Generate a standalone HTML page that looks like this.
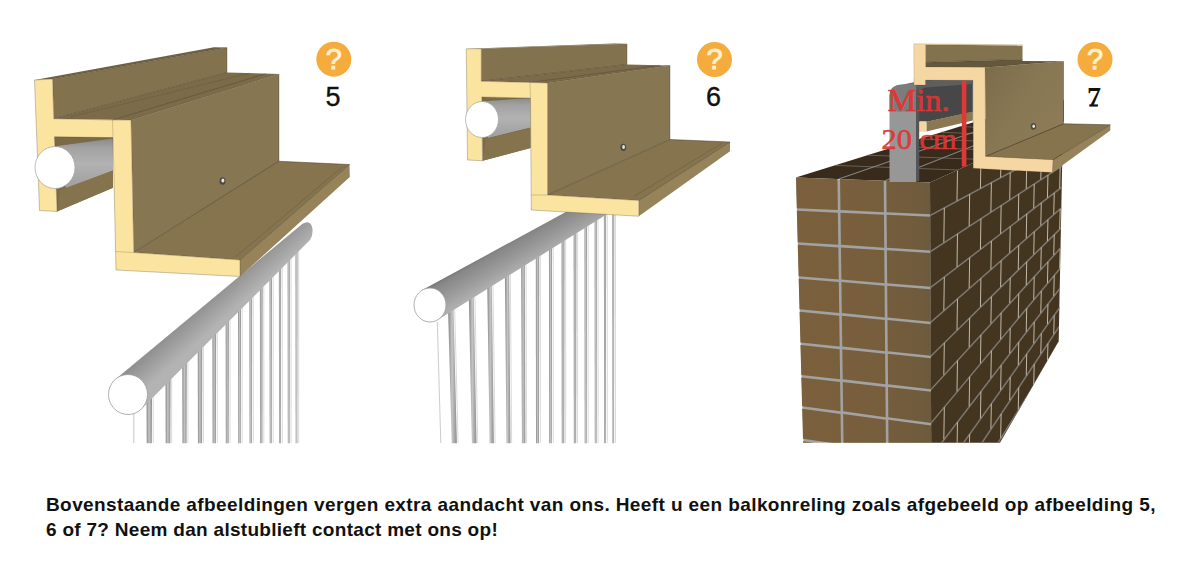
<!DOCTYPE html>
<html><head><meta charset="utf-8"><title>Afbeeldingen</title>
<style>
html,body{margin:0;padding:0;background:#fff;}
body{width:1200px;height:581px;overflow:hidden;position:relative;font-family:"Liberation Sans",sans-serif;}
svg{position:absolute;left:0;top:0;}
.cap{position:absolute;left:46px;top:491.9px;width:1130px;font-family:"Liberation Sans",sans-serif;font-weight:bold;font-size:19px;letter-spacing:0.4px;line-height:25px;color:#111;white-space:nowrap;}
</style></head><body>
<svg width="1200" height="581" viewBox="0 0 1200 581">
<defs>
<linearGradient id="bal" x1="0" x2="1" y1="0" y2="0">
<stop offset="0" stop-color="#8e8e8e"/><stop offset="0.22" stop-color="#a2a2a2"/><stop offset="0.45" stop-color="#c6c6c6"/><stop offset="0.7" stop-color="#ababab"/><stop offset="1" stop-color="#8c8c8c"/>
</linearGradient>
<linearGradient id="tubeA" x1="0" x2="0" y1="0" y2="1">
<stop offset="0" stop-color="#8a8a8a"/><stop offset="0.18" stop-color="#a2a2a2"/><stop offset="0.5" stop-color="#b2b2b2"/><stop offset="1" stop-color="#9e9e9e"/>
</linearGradient>
<linearGradient id="tube1" gradientUnits="userSpaceOnUse" x1="200" y1="290" x2="225" y2="318">
<stop offset="0" stop-color="#707070"/><stop offset="0.12" stop-color="#868686"/><stop offset="0.55" stop-color="#9b9b9b"/><stop offset="1" stop-color="#b3b3b3"/>
</linearGradient>
<linearGradient id="tube2" gradientUnits="userSpaceOnUse" x1="500" y1="245" x2="517" y2="275">
<stop offset="0" stop-color="#707070"/><stop offset="0.12" stop-color="#868686"/><stop offset="0.55" stop-color="#9b9b9b"/><stop offset="1" stop-color="#b3b3b3"/>
</linearGradient>
<linearGradient id="ff3" gradientUnits="userSpaceOnUse" x1="985" y1="70" x2="1064" y2="120"><stop offset="0" stop-color="#7c6c4a"/><stop offset="0.5" stop-color="#887753"/><stop offset="1" stop-color="#8c7b56"/></linearGradient>
<linearGradient id="brf" gradientUnits="userSpaceOnUse" x1="796" y1="0" x2="931" y2="0"><stop offset="0" stop-color="#7b603c"/><stop offset="0.6" stop-color="#775e3c"/><stop offset="1" stop-color="#6d5a3d"/></linearGradient>
<clipPath id="clipwall"><rect x="780" y="0" width="320" height="442.7"/></clipPath>
</defs>
<polygon points="146.50,398.14 152.00,398.14 151.80,443.20 146.70,443.20" fill="url(#bal)" />
<polygon points="165.50,379.35 170.50,379.35 170.30,443.20 165.70,443.20" fill="url(#bal)" />
<polygon points="182.25,362.81 186.75,362.81 186.55,443.20 182.45,443.20" fill="url(#bal)" />
<polygon points="197.75,347.28 202.25,347.28 202.05,443.20 197.95,443.20" fill="url(#bal)" />
<polygon points="212.38,333.01 216.12,333.01 215.93,443.20 212.57,443.20" fill="url(#bal)" />
<polygon points="225.62,319.98 228.88,319.98 228.68,443.20 225.82,443.20" fill="url(#bal)" />
<polygon points="238.00,307.70 241.00,307.70 240.80,443.20 238.20,443.20" fill="url(#bal)" />
<polygon points="249.38,296.43 252.12,296.43 251.93,443.20 249.57,443.20" fill="url(#bal)" />
<polygon points="259.88,285.91 262.62,285.91 262.43,443.20 260.07,443.20" fill="url(#bal)" />
<polygon points="269.50,276.39 272.00,276.39 271.80,443.20 269.70,443.20" fill="url(#bal)" />
<polygon points="278.88,267.12 281.12,267.12 280.93,443.20 279.07,443.20" fill="url(#bal)" />
<polygon points="287.62,258.36 289.88,258.36 289.68,443.20 287.82,443.20" fill="url(#bal)" />
<polygon points="295.50,250.59 297.50,250.59 297.30,443.20 295.70,443.20" fill="url(#bal)" />
<line x1="153.20" y1="397.18" x2="153.20" y2="443.00" stroke="#d6d6d6" stroke-width="0.9" />
<line x1="171.70" y1="378.64" x2="171.70" y2="443.00" stroke="#d6d6d6" stroke-width="0.9" />
<line x1="187.95" y1="362.36" x2="187.95" y2="443.00" stroke="#d6d6d6" stroke-width="0.9" />
<line x1="203.45" y1="346.83" x2="203.45" y2="443.00" stroke="#d6d6d6" stroke-width="0.9" />
<line x1="217.32" y1="332.92" x2="217.32" y2="443.00" stroke="#d6d6d6" stroke-width="0.9" />
<line x1="230.07" y1="320.15" x2="230.07" y2="443.00" stroke="#d6d6d6" stroke-width="0.9" />
<line x1="242.20" y1="308.00" x2="242.20" y2="443.00" stroke="#d6d6d6" stroke-width="0.9" />
<line x1="253.32" y1="296.85" x2="253.32" y2="443.00" stroke="#d6d6d6" stroke-width="0.9" />
<line x1="263.82" y1="286.33" x2="263.82" y2="443.00" stroke="#d6d6d6" stroke-width="0.9" />
<line x1="273.20" y1="276.94" x2="273.20" y2="443.00" stroke="#d6d6d6" stroke-width="0.9" />
<line x1="282.32" y1="267.79" x2="282.32" y2="443.00" stroke="#d6d6d6" stroke-width="0.9" />
<line x1="291.07" y1="259.03" x2="291.07" y2="443.00" stroke="#d6d6d6" stroke-width="0.9" />
<line x1="298.70" y1="251.39" x2="298.70" y2="443.00" stroke="#d6d6d6" stroke-width="0.9" />
<rect x="133.2" y="414" width="1.2" height="29" fill="#cfcfcf"/>
<path d="M115.5 379.2 L302.5 223.75 Q311 219 312.5 229 Q313 236 310 240 L141.8 408.6 Z" fill="url(#tube1)"/>
<ellipse cx="128" cy="394.5" rx="19.5" ry="20" fill="#ffffff" stroke="#9a9a9a" stroke-width="0.8"/>
<polygon points="54.00,136.00 113.00,137.00 113.00,187.80 57.00,211.50" fill="#7b6a48" />
<polygon points="52.50,79.00 227.00,47.50 227.00,72.50 53.75,118.75" fill="#83724e" />
<polygon points="34.50,80.00 52.50,79.00 227.00,47.50 214.00,47.20" fill="#6f6145" />
<polygon points="53.75,118.75 227.00,72.50 279.00,74.00 131.00,120.00" fill="#7c6b49" />
<line x1="112.50" y1="120.00" x2="266.00" y2="73.70" stroke="#3d3422" stroke-width="0.5" opacity="0.6"/>
<line x1="131.00" y1="120.00" x2="279.00" y2="74.30" stroke="#3d3422" stroke-width="0.6" opacity="0.7"/>
<line x1="53.75" y1="118.75" x2="227.00" y2="72.50" stroke="#3d3422" stroke-width="0.6" opacity="0.7"/>
<line x1="70.00" y1="117.00" x2="250.00" y2="73.00" stroke="#3d3422" stroke-width="0.4" opacity="0.4"/>
<polygon points="131.00,120.00 279.00,74.00 279.00,161.25 133.75,252.50" fill="#877652" />
<polygon points="57.50,146.00 113.00,138.50 113.00,170.50 66.00,189.00" fill="url(#tubeA)" />
<polygon points="60.00,190.00 113.00,170.50 113.00,187.80 57.00,211.50" fill="#85734e" />
<polygon points="133.75,252.50 278.75,161.25 349.50,164.50 240.00,260.00" fill="#86744F" />
<polygon points="240.00,260.00 349.50,164.50 349.80,177.00 240.00,276.50" fill="#96835A" />
<line x1="133.75" y1="252.50" x2="278.75" y2="161.25" stroke="#3d3422" stroke-width="0.6" opacity="0.8"/>
<line x1="240.00" y1="260.00" x2="349.50" y2="164.50" stroke="#3d3422" stroke-width="0.6" opacity="0.8"/>
<line x1="278.75" y1="161.25" x2="349.50" y2="164.50" stroke="#3d3422" stroke-width="0.6" opacity="0.8"/>
<line x1="279.00" y1="74.00" x2="279.00" y2="161.25" stroke="#3d3422" stroke-width="0.5" opacity="0.6"/>
<line x1="236.00" y1="256.50" x2="342.30" y2="166.90" stroke="#3d3422" stroke-width="0.5" opacity="0.4"/>
<line x1="227.00" y1="47.50" x2="227.00" y2="72.50" stroke="#3d3422" stroke-width="0.5" opacity="0.6"/>
<line x1="52.50" y1="79.00" x2="227.00" y2="47.50" stroke="#3d3422" stroke-width="0.5" opacity="0.5"/>
<polygon points="34.50,80.00 52.50,79.00 53.75,118.75 112.50,120.00 131.00,120.00 133.75,252.50 240.00,260.00 240.00,276.50 116.00,270.00 113.00,137.60 54.50,136.80 57.00,211.50 39.50,210.50" fill="#FBE3A0" stroke="#3d3422" stroke-width="0.5" stroke-opacity="0.55" stroke-linejoin="round"/>
<line x1="112.50" y1="120.00" x2="113.00" y2="137.00" stroke="#3d3422" stroke-width="0.4" opacity="0.5"/>
<line x1="115.50" y1="251.50" x2="133.75" y2="252.50" stroke="#3d3422" stroke-width="0.4" opacity="0.5"/>
<ellipse cx="55" cy="167.5" rx="20" ry="21" fill="#ffffff" stroke="#a0a0a0" stroke-width="0.7"/>
<ellipse cx="222.5" cy="181" rx="3" ry="3.8" fill="#4e493f"/><ellipse cx="222.9" cy="180.6" rx="1.5" ry="2" fill="#e6e6e6"/>
<circle cx="333.8" cy="59.2" r="17.5" fill="#F6AC3C"/>
<text x="333.8" y="68.8" font-family="Liberation Sans, sans-serif" font-size="29" fill="#FFF1CF" stroke="#FFF1CF" stroke-width="0.9" text-anchor="middle">?</text>
<text x="333" y="105.8" font-family="Liberation Sans, sans-serif" font-size="27" fill="#111" stroke="#111" stroke-width="0.35" text-anchor="middle">5</text>
<polygon points="612.25,212.00 614.25,212.00 614.05,443.20 612.45,443.20" fill="url(#bal)" />
<polygon points="603.90,212.50 606.10,212.50 605.90,443.20 604.10,443.20" fill="url(#bal)" />
<polygon points="594.60,218.28 596.90,218.28 596.70,443.20 594.80,443.20" fill="url(#bal)" />
<polygon points="584.50,224.52 587.00,224.52 586.80,443.20 584.70,443.20" fill="url(#bal)" />
<polygon points="573.62,231.22 576.38,231.22 576.17,443.20 573.83,443.20" fill="url(#bal)" />
<polygon points="561.55,238.71 564.45,238.71 564.25,443.20 561.75,443.20" fill="url(#bal)" />
<polygon points="548.95,246.51 552.05,246.51 551.85,443.20 549.15,443.20" fill="url(#bal)" />
<polygon points="535.80,254.62 539.20,254.62 539.00,443.20 536.00,443.20" fill="url(#bal)" />
<polygon points="521.10,263.67 524.90,263.67 525.38,443.20 521.98,443.20" fill="url(#bal)" />
<polygon points="504.85,273.66 509.15,273.66 510.46,443.20 506.56,443.20" fill="url(#bal)" />
<polygon points="487.20,284.58 491.80,284.58 493.89,443.20 489.69,443.20" fill="url(#bal)" />
<polygon points="468.75,295.96 473.75,295.96 476.53,443.20 471.93,443.20" fill="url(#bal)" />
<polygon points="448.00,308.76 453.50,308.76 456.90,443.20 451.80,443.20" fill="url(#bal)" />
<line x1="615.45" y1="212.00" x2="615.45" y2="443.00" stroke="#d6d6d6" stroke-width="0.9" />
<line x1="607.30" y1="214.07" x2="607.30" y2="443.00" stroke="#d6d6d6" stroke-width="0.9" />
<line x1="598.10" y1="219.81" x2="598.10" y2="443.00" stroke="#d6d6d6" stroke-width="0.9" />
<line x1="588.20" y1="225.99" x2="588.20" y2="443.00" stroke="#d6d6d6" stroke-width="0.9" />
<line x1="577.58" y1="232.62" x2="577.58" y2="443.00" stroke="#d6d6d6" stroke-width="0.9" />
<line x1="565.65" y1="240.06" x2="565.65" y2="443.00" stroke="#d6d6d6" stroke-width="0.9" />
<line x1="553.25" y1="247.80" x2="553.25" y2="443.00" stroke="#d6d6d6" stroke-width="0.9" />
<line x1="540.40" y1="255.81" x2="540.40" y2="443.00" stroke="#d6d6d6" stroke-width="0.9" />
<line x1="526.10" y1="264.74" x2="526.60" y2="443.00" stroke="#d6d6d6" stroke-width="0.9" />
<line x1="510.35" y1="274.57" x2="511.67" y2="443.00" stroke="#d6d6d6" stroke-width="0.9" />
<line x1="493.00" y1="285.39" x2="495.10" y2="443.00" stroke="#d6d6d6" stroke-width="0.9" />
<line x1="474.95" y1="296.66" x2="477.74" y2="443.00" stroke="#d6d6d6" stroke-width="0.9" />
<line x1="454.70" y1="309.29" x2="458.11" y2="443.00" stroke="#d6d6d6" stroke-width="0.9" />
<line x1="437.30" y1="322.00" x2="440.80" y2="443.00" stroke="#cccccc" stroke-width="1.0" />
<polygon points="422.30,290.10 580.00,204.20 620.00,206.10 438.50,319.40" fill="url(#tube2)" />
<ellipse cx="430" cy="305" rx="16" ry="17" fill="#ffffff" stroke="#9a9a9a" stroke-width="0.8"/>
<polygon points="482.00,97.00 530.50,98.00 530.50,148.00 482.50,160.75" fill="#7b6a48" />
<polygon points="481.25,48.75 627.00,43.75 627.00,64.50 481.25,81.25" fill="#83724e" />
<polygon points="466.25,48.75 481.25,48.75 627.00,43.75 614.00,43.40" fill="#6f6145" />
<polygon points="481.25,81.25 627.00,64.50 670.00,65.50 547.50,83.00" fill="#7c6b49" />
<line x1="530.00" y1="82.50" x2="660.00" y2="65.20" stroke="#3d3422" stroke-width="0.5" opacity="0.6"/>
<line x1="547.50" y1="83.00" x2="670.00" y2="65.50" stroke="#3d3422" stroke-width="0.6" opacity="0.7"/>
<line x1="481.25" y1="81.25" x2="627.00" y2="64.50" stroke="#3d3422" stroke-width="0.6" opacity="0.7"/>
<polygon points="547.50,83.00 670.00,65.50 670.00,139.50 547.50,195.00" fill="#877652" />
<polygon points="484.00,101.25 530.50,98.00 530.50,127.50 488.00,138.00" fill="url(#tubeA)" />
<polygon points="486.00,139.00 530.50,128.00 530.50,148.00 482.50,160.75" fill="#85734e" />
<polygon points="547.50,195.00 670.00,139.50 730.00,142.00 638.75,200.50" fill="#86744F" />
<polygon points="638.75,200.50 730.00,142.00 730.00,151.25 638.75,216.25" fill="#96835A" />
<line x1="547.50" y1="195.00" x2="670.00" y2="139.50" stroke="#3d3422" stroke-width="0.6" opacity="0.8"/>
<line x1="638.75" y1="200.50" x2="730.00" y2="142.00" stroke="#3d3422" stroke-width="0.6" opacity="0.8"/>
<line x1="670.00" y1="139.50" x2="730.00" y2="142.00" stroke="#3d3422" stroke-width="0.6" opacity="0.8"/>
<line x1="670.00" y1="65.50" x2="670.00" y2="139.50" stroke="#3d3422" stroke-width="0.5" opacity="0.6"/>
<line x1="634.00" y1="196.30" x2="722.60" y2="143.00" stroke="#3d3422" stroke-width="0.5" opacity="0.4"/>
<line x1="627.00" y1="43.75" x2="627.00" y2="64.50" stroke="#3d3422" stroke-width="0.5" opacity="0.6"/>
<polygon points="466.25,48.75 481.25,48.75 481.25,81.25 530.00,82.50 547.50,83.00 547.50,195.00 638.75,200.50 638.75,216.25 531.25,210.00 530.50,98.00 481.50,97.00 482.50,160.75 467.50,160.00" fill="#FBE3A0" stroke="#3d3422" stroke-width="0.5" stroke-opacity="0.55" stroke-linejoin="round"/>
<line x1="530.00" y1="82.50" x2="530.50" y2="98.00" stroke="#3d3422" stroke-width="0.4" opacity="0.5"/>
<line x1="531.25" y1="195.00" x2="547.50" y2="195.00" stroke="#3d3422" stroke-width="0.4" opacity="0.5"/>
<ellipse cx="482" cy="119.5" rx="16.5" ry="18" fill="#ffffff" stroke="#a0a0a0" stroke-width="0.7"/>
<ellipse cx="623.25" cy="147.3" rx="2.9" ry="3.6" fill="#4e493f"/><ellipse cx="623.6" cy="147" rx="1.4" ry="1.9" fill="#e6e6e6"/>
<circle cx="714.5" cy="59.5" r="17.5" fill="#F6AC3C"/>
<text x="714.5" y="69.1" font-family="Liberation Sans, sans-serif" font-size="29" fill="#FFF1CF" stroke="#FFF1CF" stroke-width="0.9" text-anchor="middle">?</text>
<text x="713.5" y="106" font-family="Liberation Sans, sans-serif" font-size="27" fill="#111" stroke="#111" stroke-width="0.35" text-anchor="middle">6</text>
<g clip-path="url(#clipwall)">
<polygon points="795.80,177.50 930.00,182.50 1064.00,121.50 1064.00,100.00 980.00,120.21" fill="#382b1b" />
<line x1="834.73" y1="165.39" x2="957.53" y2="169.97" stroke="#77736b" stroke-width="1.0" opacity="0.75"/>
<line x1="867.56" y1="155.18" x2="980.74" y2="159.40" stroke="#77736b" stroke-width="1.0" opacity="0.75"/>
<line x1="895.63" y1="146.45" x2="1000.59" y2="150.36" stroke="#77736b" stroke-width="1.0" opacity="0.75"/>
<line x1="919.89" y1="138.91" x2="1017.75" y2="142.55" stroke="#77736b" stroke-width="1.0" opacity="0.75"/>
<line x1="941.08" y1="132.32" x2="1032.73" y2="135.73" stroke="#77736b" stroke-width="1.0" opacity="0.75"/>
<line x1="959.74" y1="126.52" x2="1045.92" y2="129.73" stroke="#77736b" stroke-width="1.0" opacity="0.75"/>
<line x1="838.75" y1="179.10" x2="985.00" y2="128.35" stroke="#8d8d8d" stroke-width="1.1" opacity="0.9"/>
<line x1="885.00" y1="180.80" x2="985.00" y2="141.29" stroke="#8d8d8d" stroke-width="1.1" opacity="0.9"/>
<polygon points="796.00,178.00 930.00,182.50 931.30,460.00 804.00,460.00" fill="#a2a2a2" />
<polygon points="795.99,177.50 837.44,179.10 837.87,210.11 796.84,208.20" fill="url(#brf)" />
<polygon points="840.04,179.10 883.70,180.82 883.97,212.18 840.47,210.11" fill="url(#brf)" />
<polygon points="886.30,180.82 930.00,182.50 930.17,214.20 886.57,212.18" fill="url(#brf)" />
<polygon points="796.84,210.80 837.87,212.71 838.33,244.82 797.75,242.20" fill="url(#brf)" />
<polygon points="840.47,212.71 883.97,214.78 884.27,247.70 840.93,244.82" fill="url(#brf)" />
<polygon points="886.57,214.78 930.17,216.80 930.35,250.50 886.87,247.70" fill="url(#brf)" />
<polygon points="797.75,244.80 838.33,247.42 838.79,279.50 798.66,276.20" fill="url(#brf)" />
<polygon points="840.93,247.42 884.27,250.30 884.57,283.14 841.39,279.50" fill="url(#brf)" />
<polygon points="886.87,250.30 930.35,253.10 930.53,286.70 887.17,283.14" fill="url(#brf)" />
<polygon points="798.66,278.80 838.79,282.10 839.23,313.11 799.54,309.20" fill="url(#brf)" />
<polygon points="841.39,282.10 884.57,285.74 884.85,317.45 841.83,313.11" fill="url(#brf)" />
<polygon points="887.17,285.74 930.53,289.30 930.70,321.70 887.45,317.45" fill="url(#brf)" />
<polygon points="799.54,311.80 839.23,315.71 839.68,346.57 800.43,342.45" fill="url(#brf)" />
<polygon points="841.83,315.71 884.85,320.05 885.14,351.19 842.28,346.57" fill="url(#brf)" />
<polygon points="887.45,320.05 930.70,324.30 930.87,355.70 887.74,351.19" fill="url(#brf)" />
<polygon points="800.43,345.05 839.68,349.17 840.12,379.36 801.30,374.95" fill="url(#brf)" />
<polygon points="842.28,349.17 885.14,353.79 885.43,384.33 842.72,379.36" fill="url(#brf)" />
<polygon points="887.74,353.79 930.87,358.30 931.04,389.20 888.03,384.33" fill="url(#brf)" />
<polygon points="801.30,377.55 840.12,381.96 840.54,411.37 802.13,406.20" fill="url(#brf)" />
<polygon points="842.72,381.96 885.43,386.93 885.70,417.25 843.14,411.37" fill="url(#brf)" />
<polygon points="888.03,386.93 931.04,391.80 931.21,423.00 888.30,417.25" fill="url(#brf)" />
<polygon points="802.13,408.80 840.54,413.97 840.97,444.21 803.00,438.70" fill="url(#brf)" />
<polygon points="843.14,413.97 885.70,419.85 885.98,450.52 843.57,444.21" fill="url(#brf)" />
<polygon points="888.30,419.85 931.21,425.60 931.38,456.70 888.58,450.52" fill="url(#brf)" />
<polygon points="803.00,441.30 840.97,446.81 841.40,476.18 803.85,470.70" fill="url(#brf)" />
<polygon points="843.57,446.81 885.98,453.12 886.26,482.50 844.00,476.18" fill="url(#brf)" />
<polygon points="888.58,453.12 931.38,459.30 931.54,488.70 888.86,482.50" fill="url(#brf)" />
<polygon points="930.00,182.50 1063.00,122.00 1058.70,341.30 990.00,460.00 931.30,460.00" fill="#433520" />
</g>
<clipPath id="clipside"><polygon points="930,182.5 1063,122 1058.7,341.3 1000,442.7 931.3,442.7"/></clipPath>
<g clip-path="url(#clipside)">
<line x1="930.00" y1="215.50" x2="1070.00" y2="140.61" stroke="#7d7971" stroke-width="1.5" />
<line x1="930.00" y1="251.80" x2="1070.00" y2="160.78" stroke="#7d7971" stroke-width="1.5" />
<line x1="930.00" y1="288.00" x2="1070.00" y2="180.89" stroke="#7d7971" stroke-width="1.5" />
<line x1="930.00" y1="323.00" x2="1070.00" y2="200.33" stroke="#7d7971" stroke-width="1.5" />
<line x1="930.00" y1="357.00" x2="1070.00" y2="219.22" stroke="#7d7971" stroke-width="1.5" />
<line x1="930.00" y1="390.50" x2="1070.00" y2="237.83" stroke="#7d7971" stroke-width="1.5" />
<line x1="930.00" y1="424.30" x2="1070.00" y2="256.61" stroke="#7d7971" stroke-width="1.5" />
<line x1="930.00" y1="458.00" x2="1070.00" y2="275.33" stroke="#7d7971" stroke-width="1.5" />
<line x1="930.00" y1="490.00" x2="1070.00" y2="293.11" stroke="#7d7971" stroke-width="1.5" />
<line x1="930.00" y1="521.00" x2="1070.00" y2="310.33" stroke="#7d7971" stroke-width="1.5" />
<line x1="930.00" y1="552.00" x2="1070.00" y2="327.56" stroke="#7d7971" stroke-width="1.5" />
<line x1="957.49" y1="170.67" x2="956.99" y2="200.80" stroke="#c2baa8" stroke-width="1.0" />
<line x1="980.92" y1="160.60" x2="980.42" y2="188.26" stroke="#c2baa8" stroke-width="1.0" />
<line x1="1001.13" y1="151.90" x2="1000.63" y2="177.45" stroke="#c2baa8" stroke-width="1.0" />
<line x1="1018.75" y1="144.33" x2="1018.25" y2="168.03" stroke="#c2baa8" stroke-width="1.0" />
<line x1="1034.23" y1="137.66" x2="1033.73" y2="159.75" stroke="#c2baa8" stroke-width="1.0" />
<line x1="1047.95" y1="131.76" x2="1047.45" y2="152.41" stroke="#c2baa8" stroke-width="1.0" />
<line x1="1060.19" y1="126.50" x2="1059.69" y2="145.86" stroke="#c2baa8" stroke-width="1.0" />
<line x1="944.32" y1="207.84" x2="943.82" y2="242.49" stroke="#c2baa8" stroke-width="1.0" />
<line x1="969.66" y1="194.29" x2="969.16" y2="226.02" stroke="#c2baa8" stroke-width="1.0" />
<line x1="991.39" y1="182.66" x2="990.89" y2="211.89" stroke="#c2baa8" stroke-width="1.0" />
<line x1="1010.23" y1="172.58" x2="1009.73" y2="199.64" stroke="#c2baa8" stroke-width="1.0" />
<line x1="1026.73" y1="163.76" x2="1026.23" y2="188.91" stroke="#c2baa8" stroke-width="1.0" />
<line x1="1041.29" y1="155.97" x2="1040.79" y2="179.44" stroke="#c2baa8" stroke-width="1.0" />
<line x1="1054.24" y1="149.04" x2="1053.74" y2="171.03" stroke="#c2baa8" stroke-width="1.0" />
<line x1="1065.83" y1="142.84" x2="1065.33" y2="163.49" stroke="#c2baa8" stroke-width="1.0" />
<line x1="957.49" y1="233.93" x2="956.99" y2="266.97" stroke="#c2baa8" stroke-width="1.0" />
<line x1="980.92" y1="218.69" x2="980.42" y2="249.04" stroke="#c2baa8" stroke-width="1.0" />
<line x1="1001.13" y1="205.55" x2="1000.63" y2="233.58" stroke="#c2baa8" stroke-width="1.0" />
<line x1="1018.75" y1="194.10" x2="1018.25" y2="220.10" stroke="#c2baa8" stroke-width="1.0" />
<line x1="1034.23" y1="184.03" x2="1033.73" y2="208.26" stroke="#c2baa8" stroke-width="1.0" />
<line x1="1047.95" y1="175.11" x2="1047.45" y2="197.76" stroke="#c2baa8" stroke-width="1.0" />
<line x1="1060.19" y1="167.16" x2="1059.69" y2="188.40" stroke="#c2baa8" stroke-width="1.0" />
<line x1="944.32" y1="277.05" x2="943.82" y2="310.46" stroke="#c2baa8" stroke-width="1.0" />
<line x1="969.66" y1="257.66" x2="969.16" y2="288.25" stroke="#c2baa8" stroke-width="1.0" />
<line x1="991.39" y1="241.03" x2="990.89" y2="269.21" stroke="#c2baa8" stroke-width="1.0" />
<line x1="1010.23" y1="226.62" x2="1009.73" y2="252.70" stroke="#c2baa8" stroke-width="1.0" />
<line x1="1026.73" y1="213.99" x2="1026.23" y2="238.25" stroke="#c2baa8" stroke-width="1.0" />
<line x1="1041.29" y1="202.85" x2="1040.79" y2="225.49" stroke="#c2baa8" stroke-width="1.0" />
<line x1="1054.24" y1="192.95" x2="1053.74" y2="214.14" stroke="#c2baa8" stroke-width="1.0" />
<line x1="1065.83" y1="184.08" x2="1065.33" y2="203.99" stroke="#c2baa8" stroke-width="1.0" />
<line x1="957.49" y1="298.91" x2="956.99" y2="329.95" stroke="#c2baa8" stroke-width="1.0" />
<line x1="980.92" y1="278.38" x2="980.42" y2="306.89" stroke="#c2baa8" stroke-width="1.0" />
<line x1="1001.13" y1="260.67" x2="1000.63" y2="287.00" stroke="#c2baa8" stroke-width="1.0" />
<line x1="1018.75" y1="245.24" x2="1018.25" y2="269.66" stroke="#c2baa8" stroke-width="1.0" />
<line x1="1034.23" y1="231.68" x2="1033.73" y2="254.42" stroke="#c2baa8" stroke-width="1.0" />
<line x1="1047.95" y1="219.65" x2="1047.45" y2="240.92" stroke="#c2baa8" stroke-width="1.0" />
<line x1="1060.19" y1="208.93" x2="1059.69" y2="228.88" stroke="#c2baa8" stroke-width="1.0" />
<line x1="944.32" y1="342.91" x2="943.82" y2="374.89" stroke="#c2baa8" stroke-width="1.0" />
<line x1="969.66" y1="317.97" x2="969.16" y2="347.26" stroke="#c2baa8" stroke-width="1.0" />
<line x1="991.39" y1="296.59" x2="990.89" y2="323.56" stroke="#c2baa8" stroke-width="1.0" />
<line x1="1010.23" y1="278.04" x2="1009.73" y2="303.01" stroke="#c2baa8" stroke-width="1.0" />
<line x1="1026.73" y1="261.81" x2="1026.23" y2="285.02" stroke="#c2baa8" stroke-width="1.0" />
<line x1="1041.29" y1="247.48" x2="1040.79" y2="269.14" stroke="#c2baa8" stroke-width="1.0" />
<line x1="1054.24" y1="234.73" x2="1053.74" y2="255.02" stroke="#c2baa8" stroke-width="1.0" />
<line x1="1065.83" y1="223.33" x2="1065.33" y2="242.38" stroke="#c2baa8" stroke-width="1.0" />
<line x1="957.49" y1="360.52" x2="956.99" y2="391.37" stroke="#c2baa8" stroke-width="1.0" />
<line x1="980.92" y1="334.97" x2="980.42" y2="363.31" stroke="#c2baa8" stroke-width="1.0" />
<line x1="1001.13" y1="312.93" x2="1000.63" y2="339.10" stroke="#c2baa8" stroke-width="1.0" />
<line x1="1018.75" y1="293.72" x2="1018.25" y2="318.00" stroke="#c2baa8" stroke-width="1.0" />
<line x1="1034.23" y1="276.84" x2="1033.73" y2="299.46" stroke="#c2baa8" stroke-width="1.0" />
<line x1="1047.95" y1="261.88" x2="1047.45" y2="283.02" stroke="#c2baa8" stroke-width="1.0" />
<line x1="1060.19" y1="248.53" x2="1059.69" y2="268.36" stroke="#c2baa8" stroke-width="1.0" />
<line x1="944.32" y1="407.15" x2="943.82" y2="439.32" stroke="#c2baa8" stroke-width="1.0" />
<line x1="969.66" y1="376.80" x2="969.16" y2="406.26" stroke="#c2baa8" stroke-width="1.0" />
<line x1="991.39" y1="350.77" x2="990.89" y2="377.90" stroke="#c2baa8" stroke-width="1.0" />
<line x1="1010.23" y1="328.20" x2="1009.73" y2="353.32" stroke="#c2baa8" stroke-width="1.0" />
<line x1="1026.73" y1="308.44" x2="1026.23" y2="331.79" stroke="#c2baa8" stroke-width="1.0" />
<line x1="1041.29" y1="291.00" x2="1040.79" y2="312.79" stroke="#c2baa8" stroke-width="1.0" />
<line x1="1054.24" y1="275.49" x2="1053.74" y2="295.90" stroke="#c2baa8" stroke-width="1.0" />
<line x1="1065.83" y1="261.61" x2="1065.33" y2="280.78" stroke="#c2baa8" stroke-width="1.0" />
<line x1="957.49" y1="422.13" x2="956.99" y2="451.34" stroke="#c2baa8" stroke-width="1.0" />
<line x1="980.92" y1="391.56" x2="980.42" y2="418.39" stroke="#c2baa8" stroke-width="1.0" />
<line x1="1001.13" y1="365.19" x2="1000.63" y2="389.96" stroke="#c2baa8" stroke-width="1.0" />
<line x1="1018.75" y1="342.21" x2="1018.25" y2="365.19" stroke="#c2baa8" stroke-width="1.0" />
<line x1="1034.23" y1="322.01" x2="1033.73" y2="343.42" stroke="#c2baa8" stroke-width="1.0" />
<line x1="1047.95" y1="304.11" x2="1047.45" y2="324.12" stroke="#c2baa8" stroke-width="1.0" />
<line x1="1060.19" y1="288.13" x2="1059.69" y2="306.91" stroke="#c2baa8" stroke-width="1.0" />
<line x1="944.32" y1="469.87" x2="943.82" y2="499.46" stroke="#c2baa8" stroke-width="1.0" />
<line x1="969.66" y1="434.23" x2="969.16" y2="461.33" stroke="#c2baa8" stroke-width="1.0" />
<line x1="991.39" y1="403.67" x2="990.89" y2="428.63" stroke="#c2baa8" stroke-width="1.0" />
<line x1="1010.23" y1="377.17" x2="1009.73" y2="400.27" stroke="#c2baa8" stroke-width="1.0" />
<line x1="1026.73" y1="353.97" x2="1026.23" y2="375.45" stroke="#c2baa8" stroke-width="1.0" />
<line x1="1041.29" y1="333.49" x2="1040.79" y2="353.53" stroke="#c2baa8" stroke-width="1.0" />
<line x1="1054.24" y1="315.28" x2="1053.74" y2="334.05" stroke="#c2baa8" stroke-width="1.0" />
<line x1="1065.83" y1="298.98" x2="1065.33" y2="316.61" stroke="#c2baa8" stroke-width="1.0" />
<line x1="957.49" y1="479.63" x2="956.99" y2="507.93" stroke="#c2baa8" stroke-width="1.0" />
<line x1="980.92" y1="444.37" x2="980.42" y2="470.36" stroke="#c2baa8" stroke-width="1.0" />
<line x1="1001.13" y1="413.96" x2="1000.63" y2="437.96" stroke="#c2baa8" stroke-width="1.0" />
<line x1="1018.75" y1="387.46" x2="1018.25" y2="409.72" stroke="#c2baa8" stroke-width="1.0" />
<line x1="1034.23" y1="364.16" x2="1033.73" y2="384.90" stroke="#c2baa8" stroke-width="1.0" />
<line x1="1047.95" y1="343.52" x2="1047.45" y2="362.91" stroke="#c2baa8" stroke-width="1.0" />
<line x1="1060.19" y1="325.10" x2="1059.69" y2="343.28" stroke="#c2baa8" stroke-width="1.0" />
</g>
<polygon points="913.50,78.00 925.50,78.00 925.50,90.00 914.00,90.00" fill="#F5D7A4" />
<polygon points="916.00,86.00 925.00,79.80 972.80,79.80 972.80,112.00 926.00,122.00 916.00,122.00" fill="#474747" />
<polygon points="903.00,84.40 925.00,80.00 972.80,80.00 972.80,84.00 925.00,87.50 916.00,92.00" fill="#5e5e5e" />
<polygon points="926.40,121.80 972.80,111.60 972.80,120.40 926.40,131.50" fill="#8a7854" />
<polygon points="919.20,121.20 926.40,121.20 926.40,131.80 919.20,131.80" fill="#F5D7A4" />
<path d="M889.5 181.9 L889.5 96 Q889.5 84.4 903 84.4 L916 83.2 L916 181.9 Z" fill="#979797"/>
<path d="M889.5 111.5 L889.5 96 Q889.5 84.4 903 84.4 L916 83.2 L916 111.5 Z" fill="#7c7c7c"/>
<polygon points="916.00,90.00 919.20,88.00 919.20,181.00 916.00,181.90" fill="#555555" />
<polygon points="925.50,44.50 1022.50,45.50 1022.50,59.30 925.50,62.20" fill="#83724e" />
<polygon points="925.50,62.20 1022.50,59.30 1022.50,61.00 1063.75,61.25 985.00,67.50 925.50,67.00" fill="#65573b" />
<line x1="925.50" y1="62.20" x2="1022.50" y2="59.30" stroke="#3d3422" stroke-width="0.5" opacity="0.6"/>
<line x1="985.00" y1="67.50" x2="1063.75" y2="61.25" stroke="#3d3422" stroke-width="0.5" opacity="0.6"/>
<polygon points="985.00,67.50 1063.75,61.25 1063.75,123.75 985.60,156.40" fill="url(#ff3)" />
<polygon points="985.60,156.40 1063.75,123.75 1110.30,124.80 1053.00,159.80" fill="#86744F" />
<polygon points="1053.00,159.80 1110.30,124.80 1110.30,130.50 1052.50,172.50" fill="#96835A" />
<line x1="985.60" y1="156.40" x2="1063.75" y2="123.75" stroke="#3d3422" stroke-width="0.6" opacity="0.8"/>
<line x1="1053.00" y1="159.80" x2="1110.30" y2="124.80" stroke="#3d3422" stroke-width="0.6" opacity="0.8"/>
<line x1="1063.75" y1="123.75" x2="1110.30" y2="124.80" stroke="#3d3422" stroke-width="0.6" opacity="0.8"/>
<line x1="1063.75" y1="61.25" x2="1063.75" y2="123.75" stroke="#3d3422" stroke-width="0.5" opacity="0.6"/>
<polygon points="913.75,43.75 1022.50,44.80 1022.50,45.50 925.50,44.80 925.50,67.00 985.00,67.50 985.60,156.40 1053.00,159.80 1052.50,172.50 973.20,168.20 973.20,80.30 925.50,80.10 925.50,85.00 914.00,85.00" fill="#F5D7A4" stroke="#3d3422" stroke-width="0.4" stroke-opacity="0.4" stroke-linejoin="round"/>
<ellipse cx="1033.4" cy="126.4" rx="2.7" ry="3.3" fill="#4e493f"/><ellipse cx="1033.7" cy="126.2" rx="1.3" ry="1.7" fill="#e6e6e6"/>
<rect x="961.8" y="80.8" width="4.6" height="85.8" fill="#E03838"/>
<text x="887.5" y="111" font-family="Liberation Serif, serif" font-size="32" fill="#E03535" fill-opacity="0.92" stroke="#E03535" stroke-width="0.7" stroke-opacity="0.9" textLength="62" lengthAdjust="spacingAndGlyphs">Min.</text>
<text x="881.5" y="148.5" font-family="Liberation Serif, serif" font-size="30" fill="#E03535" fill-opacity="0.92" stroke="#E03535" stroke-width="0.7" stroke-opacity="0.9" textLength="75" lengthAdjust="spacingAndGlyphs">20 cm</text>
<circle cx="1095" cy="59.5" r="17.5" fill="#F6AC3C"/>
<text x="1095" y="69.1" font-family="Liberation Sans, sans-serif" font-size="29" fill="#FFF1CF" stroke="#FFF1CF" stroke-width="0.9" text-anchor="middle">?</text>
<rect x="1089.3" y="104.4" width="8.6" height="2.2" fill="#111"/>
<text x="1094" y="106" font-family="Liberation Serif, serif" font-weight="bold" font-size="28" fill="#111" text-anchor="middle">7</text>
</svg>
<div class="cap">Bovenstaande afbeeldingen vergen extra aandacht van ons. Heeft u een balkonreling zoals afgebeeld op afbeelding 5,<br><span style="letter-spacing:0.29px">6 of 7? Neem dan alstublieft contact met ons op!</span></div>
</body></html>
